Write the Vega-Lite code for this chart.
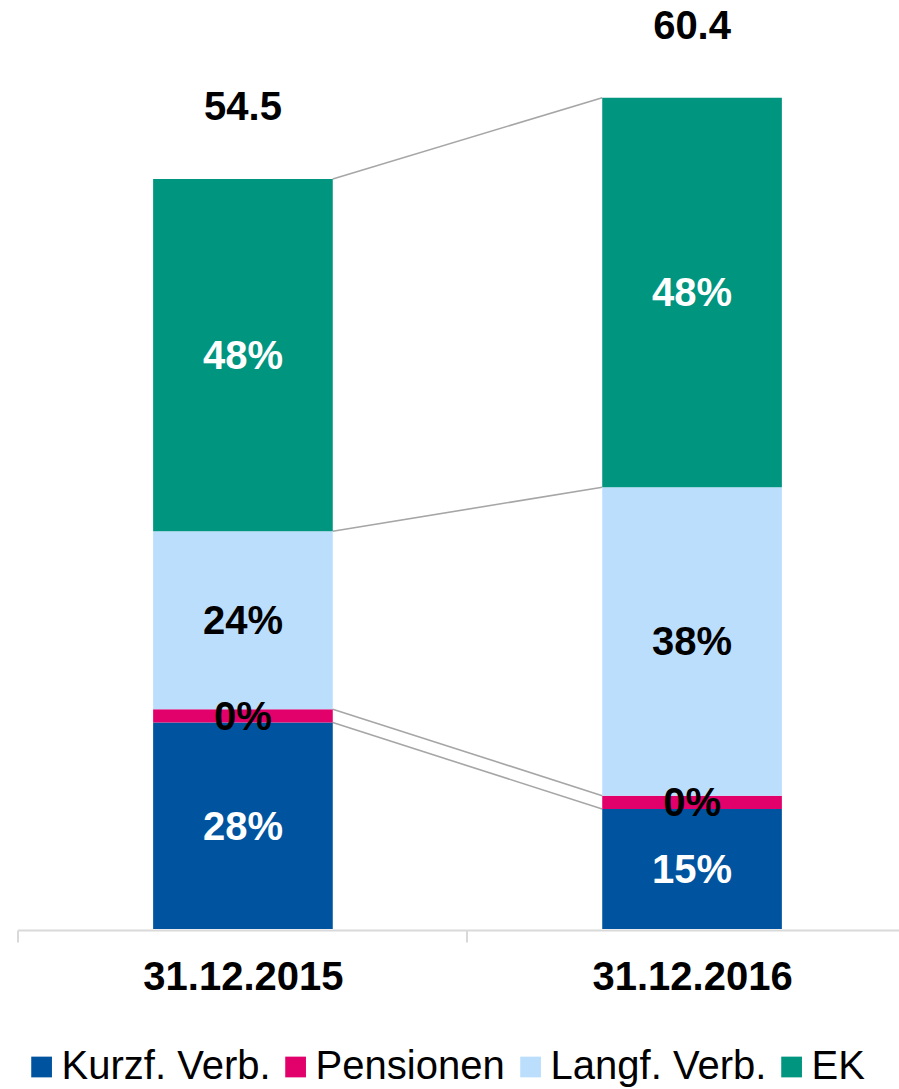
{
  "$schema": "https://vega.github.io/schema/vega-lite/v6.json",
  "width": 881.5,
  "height": 929,
  "autosize": {"type": "none"},
  "padding": {"left": 17.5, "top": 0, "right": 0, "bottom": 160},
  "background": "white",
  "config": {"view": {"stroke": null}, "font": "Liberation Sans"},
  "data": {
    "values": [
      {"date": "31.12.2015", "series": "Kurzf. Verb.", "order": 1, "value": 15.0, "label": "28%"},
      {"date": "31.12.2015", "series": "Pensionen", "order": 2, "value": 0.97, "label": "0%"},
      {"date": "31.12.2015", "series": "Langf. Verb.", "order": 3, "value": 12.93, "label": "24%"},
      {"date": "31.12.2015", "series": "EK", "order": 4, "value": 25.6, "label": "48%"},
      {"date": "31.12.2016", "series": "Kurzf. Verb.", "order": 1, "value": 8.72, "label": "15%"},
      {"date": "31.12.2016", "series": "Pensionen", "order": 2, "value": 0.97, "label": "0%"},
      {"date": "31.12.2016", "series": "Langf. Verb.", "order": 3, "value": 22.41, "label": "38%"},
      {"date": "31.12.2016", "series": "EK", "order": 4, "value": 28.3, "label": "48%"}
    ]
  },
  "layer": [
    {
      "transform": [
        {"stack": "value", "groupby": ["date"], "sort": [{"field": "order", "order": "ascending"}], "as": ["y0", "y1"]},
        {"pivot": "date", "value": "y1", "groupby": ["series"]}
      ],
      "mark": {"type": "rule", "color": "#a6a6a6", "strokeWidth": 1.6, "xOffset": 89.8, "x2Offset": -89.8},
      "encoding": {
        "x": {"datum": "31.12.2015", "type": "nominal"},
        "x2": {"datum": "31.12.2016"},
        "y": {"field": "31\\.12\\.2015", "type": "quantitative", "scale": {"domain": [0, 67.5], "nice": false}, "axis": null},
        "y2": {"field": "31\\.12\\.2016"}
      }
    },
    {
      "mark": {"type": "bar"},
      "encoding": {
        "x": {
          "field": "date",
          "type": "nominal",
          "scale": {"paddingInner": 0.6, "paddingOuter": 0.302, "range": [0, 900]},
          "axis": {
            "title": null,
            "orient": "bottom",
            "offset": 1,
            "domainColor": "#d9d9d9",
            "domainWidth": 2,
            "tickColor": "#d9d9d9",
            "tickWidth": 2,
            "tickSize": 12,
            "tickOffset": -225.4,
            "labelOffset": 225.4,
            "labelAngle": 0,
            "labelAlign": "center",
            "labelFont": "Liberation Sans",
            "labelFontSize": 40,
            "labelFontWeight": "bold",
            "labelColor": "#000000",
            "labelPadding": 35,
            "labelLimit": 600,
            "grid": false
          }
        },
        "y": {"field": "value", "type": "quantitative", "aggregate": "sum", "stack": "zero", "scale": {"domain": [0, 67.5], "nice": false}, "axis": null},
        "order": {"field": "order", "type": "quantitative"},
        "color": {
          "field": "series",
          "type": "nominal",
          "scale": {
            "domain": ["Kurzf. Verb.", "Pensionen", "Langf. Verb.", "EK"],
            "range": ["#00549f", "#e2006b", "#bcdefd", "#00957f"]
          },
          "legend": {
            "title": null,
            "orient": "none",
            "legendX": 4.1,
            "legendY": 1047,
            "padding": 0,
            "direction": "horizontal",
            "symbolType": "square",
            "symbolSize": 430,
            "symbolStrokeWidth": 0,
            "labelFont": "Liberation Sans",
            "labelFontSize": 40,
            "labelColor": "#000000",
            "labelOffset": 0,
            "labelLimit": 500,
            "columnPadding": 5
          }
        }
      }
    },
    {
      "transform": [
        {"stack": "value", "groupby": ["date"], "sort": [{"field": "order", "order": "ascending"}], "as": ["y0", "y1"]},
        {"fold": ["y0", "y1"], "as": ["edge", "pos"]},
        {"aggregate": [{"op": "mean", "field": "pos", "as": "mid"}], "groupby": ["date", "series", "label"]}
      ],
      "mark": {"type": "text", "font": "Liberation Sans", "fontSize": 40, "fontWeight": "bold", "baseline": "middle", "align": "center", "dy": 2},
      "encoding": {
        "x": {"field": "date", "type": "nominal"},
        "y": {"field": "mid", "type": "quantitative", "scale": {"domain": [0, 67.5], "nice": false}, "axis": null},
        "text": {"field": "label", "type": "nominal"},
        "color": {
          "condition": {"test": "datum.series === 'Kurzf. Verb.' || datum.series === 'EK'", "value": "#ffffff"},
          "value": "#000000"
        }
      }
    },
    {
      "transform": [
        {"aggregate": [{"op": "sum", "field": "value", "as": "total"}], "groupby": ["date"]}
      ],
      "mark": {"type": "text", "font": "Liberation Sans", "fontSize": 40, "fontWeight": "bold", "baseline": "alphabetic", "align": "center", "dy": -58.7, "color": "#000000"},
      "encoding": {
        "x": {"field": "date", "type": "nominal"},
        "y": {"field": "total", "type": "quantitative", "scale": {"domain": [0, 67.5], "nice": false}, "axis": null},
        "text": {"field": "total", "type": "quantitative", "format": ".1f"}
      }
    }
  ]
}
